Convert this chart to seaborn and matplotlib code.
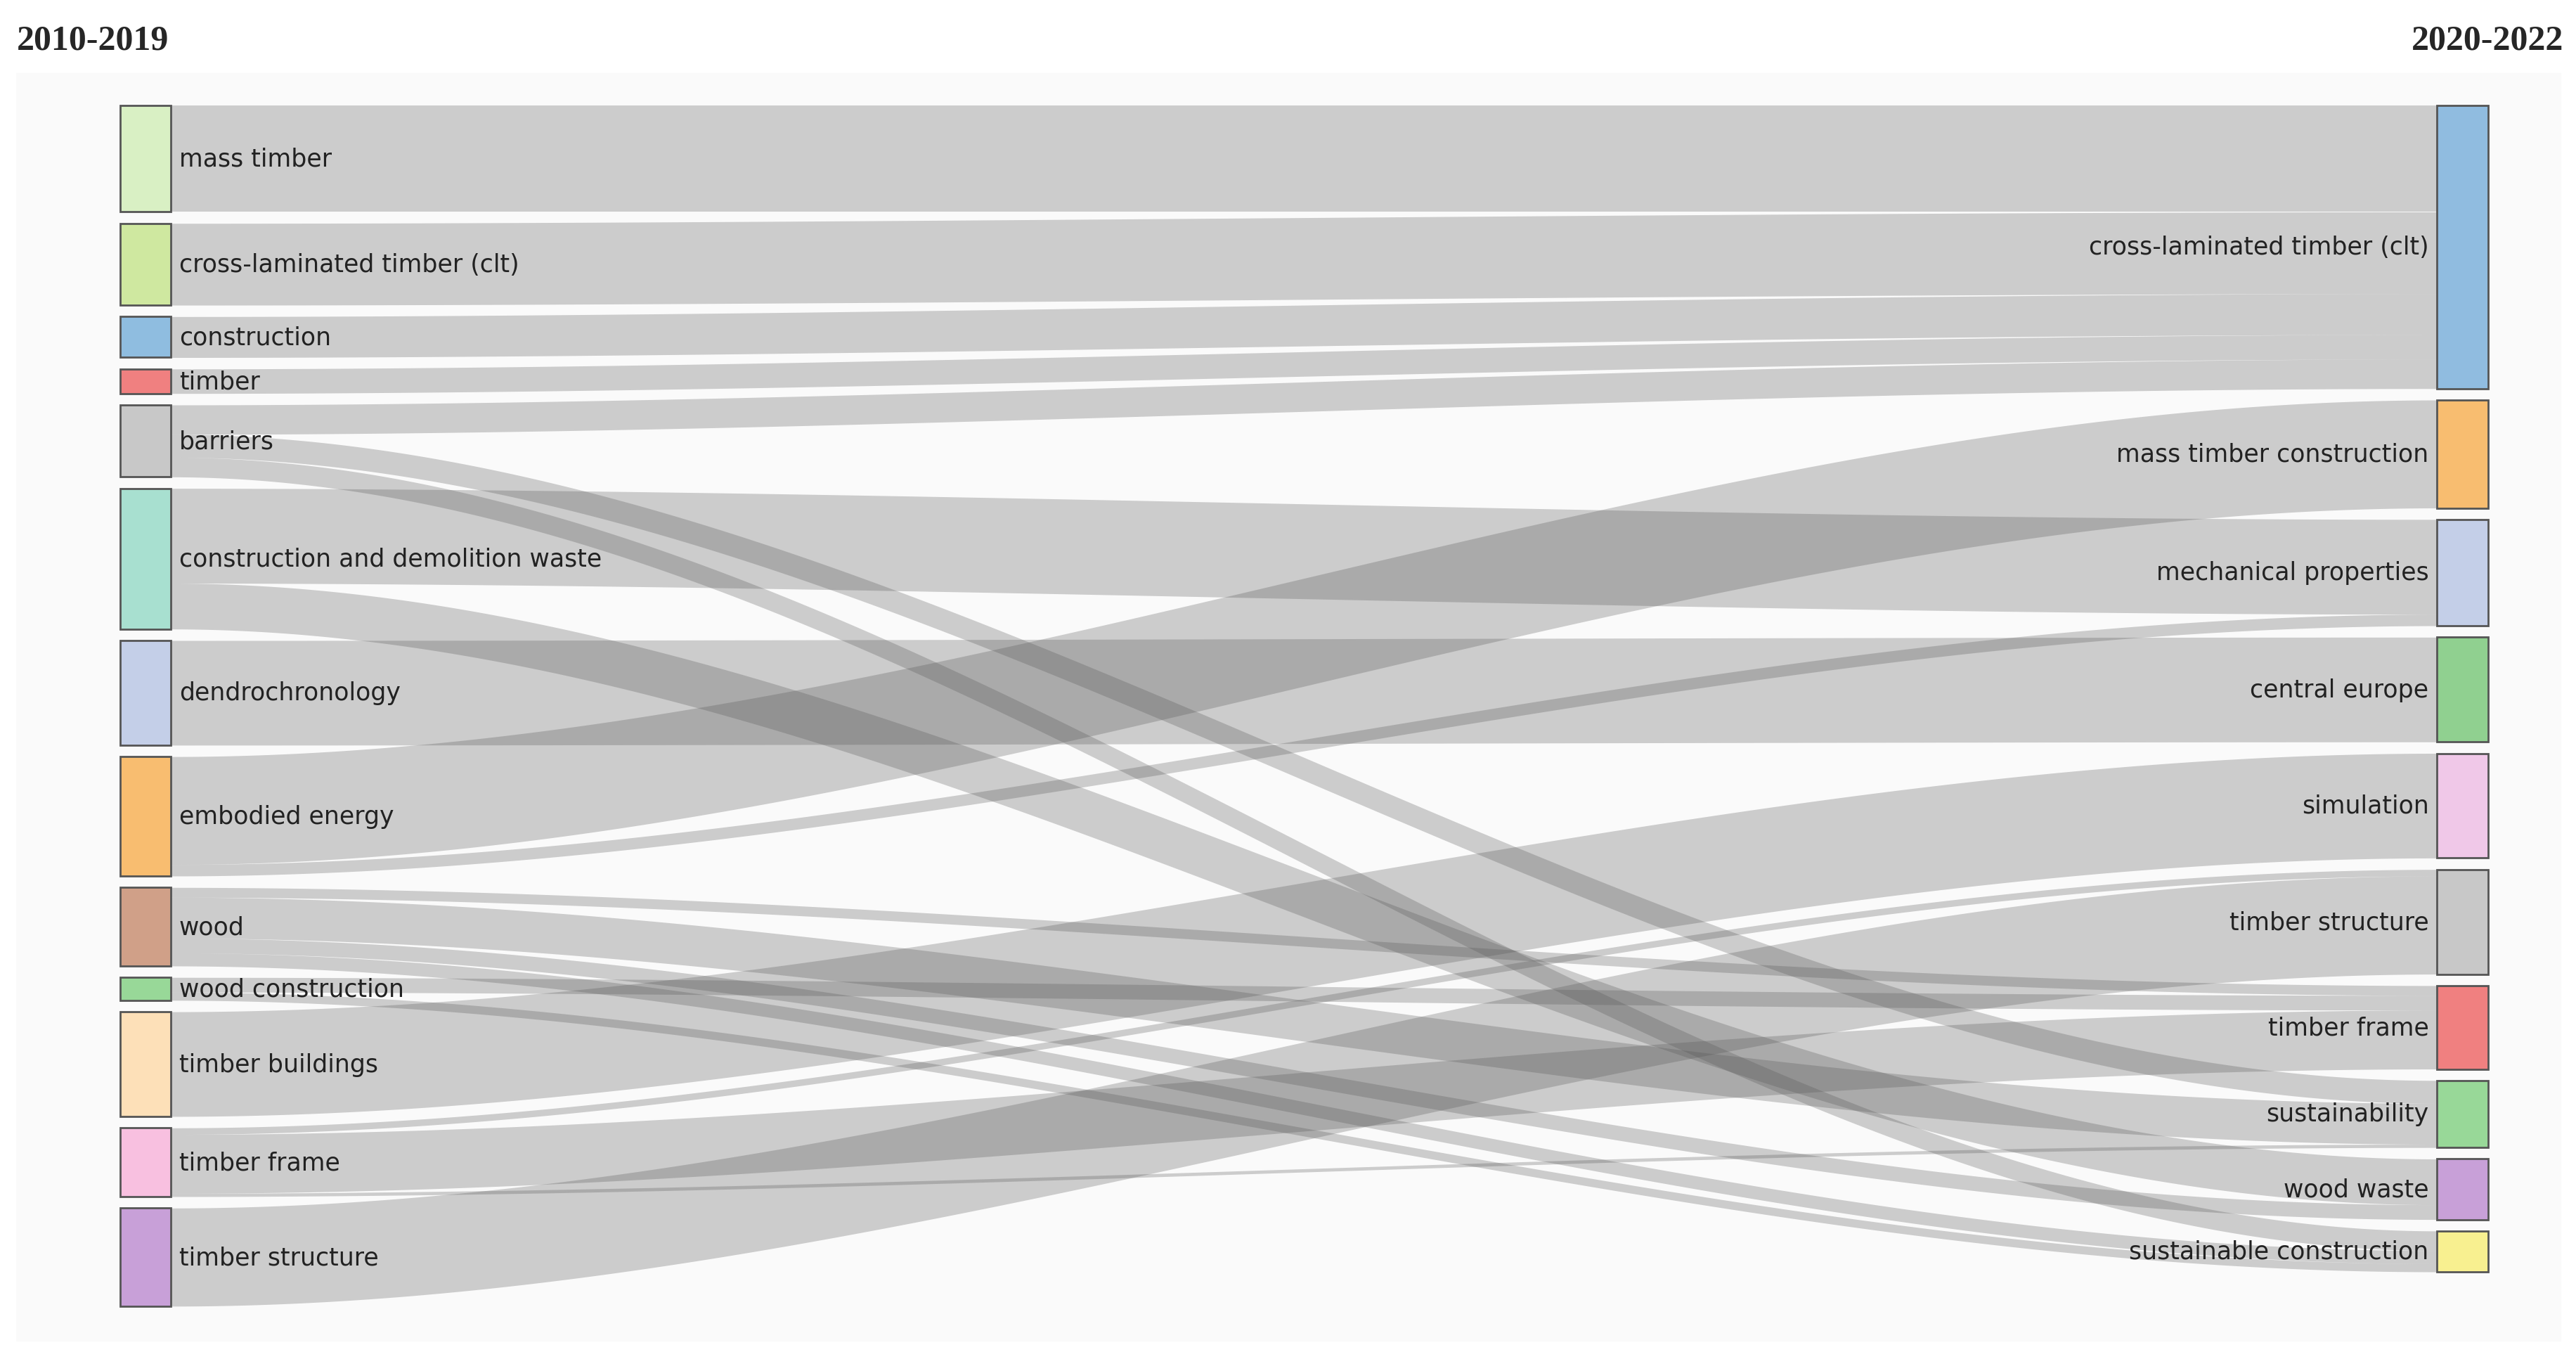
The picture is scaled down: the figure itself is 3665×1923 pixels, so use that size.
import numpy as np
import matplotlib.pyplot as plt
import matplotlib.patches as mpatches
import seaborn as sns

# left (2010-2019) and right (2020-2022) nodes
left_nodes = ["mass timber", "cross-laminated timber (clt)", "construction", "timber", "barriers",
              "construction and demolition waste", "dendrochronology", "embodied energy", "wood",
              "wood construction", "timber buildings", "timber frame", "timber structure"]
left_colors = ["#d9f0c4", "#cfe8a0", "#8fbde0", "#f08080", "#c8c8c8", "#a8e0d0", "#c4cfe8",
               "#f8bd70", "#d0a088", "#98d898", "#fde0b8", "#f8c0e0", "#c8a0d8"]
right_nodes = ["cross-laminated timber (clt)", "mass timber construction", "mechanical properties",
               "central europe", "simulation", "timber structure", "timber frame", "sustainability",
               "wood waste", "sustainable construction"]
right_colors = ["#90bce0", "#f8bd70", "#c4cfe8", "#90d090", "#f0c8e8", "#c8c8c8", "#f08080",
                "#98d898", "#c8a0d8", "#f8f090"]

src = ["mass timber", "cross-laminated timber (clt)", "construction", "timber",
       "barriers", "barriers", "barriers",
       "construction and demolition waste", "construction and demolition waste",
       "dendrochronology", "embodied energy", "embodied energy",
       "wood", "wood", "wood", "wood",
       "wood construction", "wood construction",
       "timber buildings", "timber frame", "timber frame", "timber frame", "timber structure"]
dst = ["cross-laminated timber (clt)", "cross-laminated timber (clt)", "cross-laminated timber (clt)",
       "cross-laminated timber (clt)",
       "cross-laminated timber (clt)", "sustainability", "sustainable construction",
       "mechanical properties", "wood waste",
       "central europe", "mass timber construction", "mechanical properties",
       "timber frame", "sustainability", "wood waste", "sustainable construction",
       "timber frame", "sustainable construction",
       "simulation", "timber frame", "sustainability", "timber structure", "timber structure"]
val = [65, 50, 25, 15, 18, 14, 12, 58, 28, 64, 66, 7, 6, 25, 9, 8, 9, 5, 64, 36, 2, 4, 60]

sns.set_theme(style="white")
fig, ax = plt.subplots(figsize=(36.66, 19.24), dpi=100)
fig.subplots_adjust(0, 0, 1, 1)
ax.set_xlim(0, 1568)
ax.set_ylim(827, 0)
ax.axis("off")
ax.add_patch(mpatches.Rectangle((10, 45), 1548, 775, color="#fafafa", zorder=0))

gap, top = 7, 65
xl0, xl1, xr0, xr1 = 73, 104, 1483, 1514


def layout(nodes, side):
    pos, y = {}, top
    for n in nodes:
        tot = sum(v for s, d, v in zip(src, dst, val) if (s if side == 0 else d) == n)
        pos[n] = (y, tot)
        y += tot + gap
    return pos


lpos, rpos = layout(left_nodes, 0), layout(right_nodes, 1)
order = sorted(range(len(val)), key=lambda i: (left_nodes.index(src[i]), right_nodes.index(dst[i])))
lcur = {n: lpos[n][0] for n in left_nodes}
lstart = {}
for i in order:
    lstart[i] = lcur[src[i]]
    lcur[src[i]] += val[i]
order_r = sorted(range(len(val)), key=lambda i: (right_nodes.index(dst[i]), left_nodes.index(src[i])))
rcur = {n: rpos[n][0] for n in right_nodes}
rstart = {}
for i in order_r:
    rstart[i] = rcur[dst[i]]
    rcur[dst[i]] += val[i]

xs = np.linspace(xl1, xr0, 300)
t = (xs - xl1) / (xr0 - xl1)
sm = 3 * t ** 2 - 2 * t ** 3
for i in range(len(val)):
    y0 = lstart[i] + (rstart[i] - lstart[i]) * sm
    ax.fill_between(xs, y0, y0 + val[i], color="#555555", alpha=0.28, lw=0, zorder=1)

for nodes, pos, cols, x0, x1, side in [(left_nodes, lpos, left_colors, xl0, xl1, 0),
                                         (right_nodes, rpos, right_colors, xr0, xr1, 1)]:
    for n, c in zip(nodes, cols):
        y, h = pos[n]
        ax.add_patch(mpatches.Rectangle((x0, y), x1 - x0, h, facecolor=c, edgecolor="#555555",
                                        lw=2, zorder=3))
        if side == 0:
            ax.text(x1 + 5, y + h / 2, n, ha="left", va="center", fontsize=25, color="#222222", zorder=4)
        else:
            ax.text(x0 - 5, y + h / 2, n, ha="right", va="center", fontsize=25, color="#222222", zorder=4)

ax.text(10, 25, "2010-2019", ha="left", va="center", fontsize=36, fontweight="bold",
        family="Liberation Serif")
ax.text(1560, 25, "2020-2022", ha="right", va="center", fontsize=36, fontweight="bold",
        family="Liberation Serif")

fig.savefig("out.png", dpi=100)
